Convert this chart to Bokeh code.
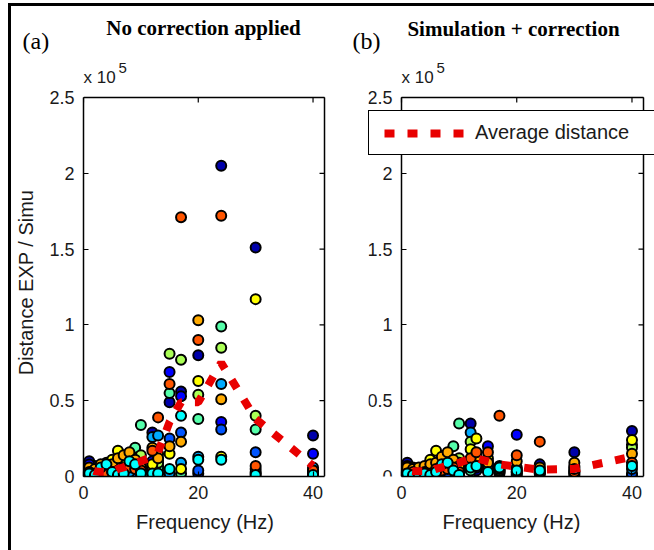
from bokeh.plotting import figure
from bokeh.layouts import row, column
from bokeh.models import (ColumnDataSource, Range1d, FixedTicker, NumeralTickFormatter,
                          Label, Legend, LegendItem)
from bokeh.embed import file_html
from bokeh.resources import INLINE

# ---------------- data (distance in units of 1e5) ----------------
freqs = [1, 2, 3, 4, 5, 6, 7, 8, 9, 10, 12, 13, 15, 17, 20, 24, 30, 40]

series_colors = ["#0000AA", "#0000FF", "#0055FF", "#00AAFF", "#00FFFF",
                 "#55FFAA", "#AAFF55", "#FFFF00", "#FFAA00", "#FF5500"]

# Panel (a): no correction applied
a_navy   = [0.10, 0.07, 0.05, 0.04, 0.03, 0.02, 0.02, 0.03, 0.04, 0.03, 0.29, 0.07, 0.49, 0.56, 0.80, 2.05, 1.51, 0.27]
a_blue   = [0.08, 0.04, 0.02, 0.03, 0.02, 0.03, 0.04, 0.05, 0.06, 0.05, 0.10, 0.11, 0.69, 0.53, 0.02, 0.36, 0.03, 0.15]
a_blue2  = [0.04, 0.02, 0.03, 0.02, 0.04, 0.05, 0.03, 0.04, 0.03, 0.02, 0.06, 0.04, 0.25, 0.29, 0.04, 0.31, 0.16, 0.02]
a_sky    = [0.04, 0.03, 0.02, 0.05, 0.06, 0.04, 0.07, 0.03, 0.12, 0.09, 0.26, 0.27, 0.02, 0.09, 0.13, 0.61, 0.02, 0.06]
a_cyan   = [0.02, 0.01, 0.06, 0.08, 0.03, 0.01, 0.02, 0.10, 0.08, 0.02, 0.02, 0.02, 0.05, 0.40, 0.11, 0.11, 0.01, 0.01]
a_aqua   = [0.05, 0.04, 0.03, 0.05, 0.05, 0.06, 0.08, 0.13, 0.19, 0.34, 0.04, 0.06, 0.55, 0.02, 0.38, 0.99, 0.31, 0.04]
a_lime   = [0.03, 0.03, 0.04, 0.04, 0.07, 0.10, 0.06, 0.09, 0.10, 0.14, 0.05, 0.09, 0.81, 0.77, 0.54, 0.85, 0.40, 0.03]
a_yellow = [0.04, 0.04, 0.05, 0.09, 0.11, 0.17, 0.12, 0.12, 0.07, 0.07, 0.08, 0.15, 0.15, 0.05, 0.63, 0.13, 1.17, 0.02]
a_orange = [0.06, 0.05, 0.08, 0.06, 0.08, 0.12, 0.14, 0.16, 0.11, 0.06, 0.19, 0.12, 0.20, 0.23, 1.03, 0.51, 0.05, 0.03]
a_red    = [0.03, 0.02, 0.03, 0.02, 0.03, 0.04, 0.05, 0.06, 0.05, 0.04, 0.17, 0.39, 0.61, 1.71, 0.90, 1.72, 0.07, 0.04]
a_avg    = [0.05, 0.035, 0.03, 0.03, 0.03, 0.05, 0.06, 0.08, 0.09, 0.10, 0.13, 0.16, 0.36, 0.49, 0.49, 0.75, 0.38, 0.07]

# Panel (b): simulation + correction
b_navy   = [0.09, 0.06, 0.05, 0.04, 0.03, 0.02, 0.03, 0.02, 0.03, 0.02, 0.35, 0.04, 0.05, 0.03, 0.02, 0.08, 0.16, 0.30]
b_blue   = [0.07, 0.03, 0.04, 0.03, 0.02, 0.03, 0.02, 0.04, 0.05, 0.04, 0.05, 0.12, 0.20, 0.02, 0.275, 0.03, 0.01, 0.01]
b_blue2  = [0.04, 0.02, 0.03, 0.02, 0.04, 0.05, 0.04, 0.03, 0.06, 0.05, 0.08, 0.06, 0.08, 0.05, 0.03, 0.02, 0.03, 0.02]
b_sky    = [0.03, 0.04, 0.02, 0.05, 0.03, 0.06, 0.05, 0.07, 0.10, 0.08, 0.29, 0.10, 0.06, 0.04, 0.01, 0.03, 0.02, 0.05]
b_cyan   = [0.02, 0.01, 0.01, 0.02, 0.01, 0.03, 0.08, 0.09, 0.04, 0.01, 0.06, 0.07, 0.03, 0.06, 0.04, 0.04, 0.05, 0.07]
b_aqua   = [0.05, 0.03, 0.04, 0.03, 0.05, 0.04, 0.06, 0.10, 0.20, 0.35, 0.04, 0.09, 0.07, 0.03, 0.03, 0.02, 0.04, 0.21]
b_lime   = [0.03, 0.02, 0.03, 0.04, 0.06, 0.08, 0.07, 0.06, 0.08, 0.12, 0.23, 0.11, 0.10, 0.04, 0.05, 0.03, 0.06, 0.19]
b_yellow = [0.04, 0.04, 0.05, 0.06, 0.11, 0.17, 0.10, 0.12, 0.07, 0.09, 0.18, 0.25, 0.12, 0.05, 0.06, 0.05, 0.07, 0.24]
b_orange = [0.06, 0.05, 0.06, 0.07, 0.08, 0.09, 0.13, 0.16, 0.11, 0.07, 0.10, 0.13, 0.09, 0.07, 0.10, 0.06, 0.09, 0.15]
b_red    = [0.02, 0.03, 0.02, 0.03, 0.02, 0.05, 0.04, 0.05, 0.06, 0.03, 0.12, 0.16, 0.16, 0.40, 0.14, 0.23, 0.03, 0.09]
b_avg    = [0.04, 0.035, 0.035, 0.035, 0.035, 0.05, 0.06, 0.07, 0.08, 0.09, 0.12, 0.12, 0.10, 0.08, 0.065, 0.045, 0.05, 0.13]

a_series = [a_navy, a_blue, a_blue2, a_sky, a_cyan, a_aqua, a_lime, a_yellow, a_orange, a_red]
b_series = [b_navy, b_blue, b_blue2, b_sky, b_cyan, b_aqua, b_lime, b_yellow, b_orange, b_red]

x_ticks = [0, 20, 40]
y_ticks = [0, 0.5, 1, 1.5, 2, 2.5]
X_MAX = 42
Y_MAX = 2.5
draw_order = [0, 1, 2, 3, 5, 6, 7, 8, 9, 4]

SANS = "Liberation Sans"
SERIF = "Liberation Serif"
RED = "#e80000"
TXT = "#1a1a1a"

# ---- pixel geometry of the page ----
SPLIT = 88                     # page y where the title strip ends and the panels begin
FRAME_TOP, FRAME_BOTTOM = 97, 476
PX_X = 242 / X_MAX             # pixels per Hz
PX_Y = (FRAME_BOTTOM - FRAME_TOP) / Y_MAX
TICK_PX = 5


def style_axis(ax, ticks):
    ax.ticker = FixedTicker(ticks=ticks)
    ax.axis_line_color = "black"
    ax.axis_line_width = 1.5
    ax.major_tick_line_color = "black"
    ax.major_tick_line_width = 1.2
    ax.major_tick_in = TICK_PX
    ax.major_tick_out = 0
    ax.minor_tick_line_color = None
    ax.major_label_text_font = SANS
    ax.major_label_text_font_size = "18px"
    ax.major_label_text_color = TXT
    ax.major_label_standoff = 9


def make_panel(series, avg, width, bl, left_px, right_px, ylabel=None, legend=False):
    # left_px / right_px: pixels between the frame edges and x = 0 / x = X_MAX
    p = figure(width=width, height=550 - SPLIT, output_backend="svg", toolbar_location=None,
               title=None,
               x_range=Range1d(-left_px / PX_X, X_MAX + right_px / PX_X),
               y_range=Range1d(0, Y_MAX + (FRAME_TOP - SPLIT) / PX_Y),
               min_border_left=bl, min_border_right=0, min_border_top=0,
               min_border_bottom=550 - FRAME_BOTTOM)
    p.grid.visible = False
    p.outline_line_color = None
    p.background_fill_color = "white"
    p.border_fill_color = "white"

    xa = p.xaxis[0]
    ya = p.yaxis[0]
    style_axis(xa, x_ticks)
    style_axis(ya, y_ticks)
    xa.bounds = (0, X_MAX)
    ya.bounds = (0, Y_MAX)
    if left_px > 0:
        ya.fixed_location = 0
    ya.formatter = NumeralTickFormatter(format="0.[0]")
    xa.axis_label = "Frequency (Hz)"
    xa.axis_label_text_font = SANS
    xa.axis_label_text_font_size = "20px"
    xa.axis_label_text_font_style = "normal"
    xa.axis_label_text_color = TXT
    xa.axis_label_standoff = 9
    if ylabel:
        ya.axis_label = ylabel
        ya.axis_label_text_font = SANS
        ya.axis_label_text_font_size = "20px"
        ya.axis_label_text_font_style = "normal"
        ya.axis_label_text_color = TXT
        ya.axis_label_standoff = 9

    # top and right edges of the axes box with their inward ticks
    dy = TICK_PX / PX_Y
    dx = TICK_PX / PX_X
    p.segment(x0=[0, X_MAX], y0=[Y_MAX, 0], x1=[X_MAX, X_MAX], y1=[Y_MAX, Y_MAX],
              line_color="black", line_width=1.5)
    p.segment(x0=x_ticks, y0=[Y_MAX] * len(x_ticks), x1=x_ticks, y1=[Y_MAX - dy] * len(x_ticks),
              line_color="black", line_width=1.2)
    p.segment(x0=[X_MAX] * len(y_ticks), y0=y_ticks, x1=[X_MAX - dx] * len(y_ticks), y1=y_ticks,
              line_color="black", line_width=1.2)

    xs, ys, cs = [], [], []
    for k in draw_order:
        for f, v in zip(freqs, series[k]):
            xs.append(f)
            ys.append(v)
            cs.append(series_colors[k])
    src = ColumnDataSource(dict(x=xs, y=ys, c=cs))
    p.scatter("x", "y", source=src, size=10, fill_color="c", line_color="black", line_width=2)

    line = p.line(freqs, avg, line_color=RED, line_width=8, line_dash="10 13",
                  line_dash_offset=18, line_cap="butt")

    if legend:
        lg = Legend(items=[LegendItem(label="Average distance", renderers=[line])],
                    location=(0, 321), orientation="vertical",
                    label_text_font=SANS, label_text_font_size="20px", label_text_color=TXT,
                    glyph_width=86, glyph_height=22, label_height=22, label_width=185,
                    label_standoff=10, padding=10, margin=0, spacing=0,
                    border_line_color="black", border_line_width=1.5, border_line_alpha=1.0,
                    background_fill_color="white", background_fill_alpha=1.0)
        p.add_layout(lg, "center")
    return p


# ---- top strip with panel letters, titles and the scale factor (page coordinates) ----
top = figure(width=643, height=SPLIT - 6, output_backend="svg", toolbar_location=None,
             title=None, x_range=Range1d(11, 654), y_range=Range1d(SPLIT, 6),
             x_axis_location=None, y_axis_location=None, min_border=0)
top.grid.visible = False
top.outline_line_color = None
top.border_fill_color = "white"
top.background_fill_color = "white"


def put(x, y, text, font, size, style="normal", align="left", color="black"):
    top.add_layout(Label(x=x, y=y, text=text, text_font=font, text_font_size=size,
                         text_font_style=style, text_align=align, text_baseline="middle",
                         text_color=color))


put(22, 40, "(a)", SERIF, "24px")
put(203, 27, "No correction applied", SERIF, "21px", style="bold", align="center")
put(83, 77, "x 10", SANS, "17px", color=TXT)
put(118, 67, "5", SANS, "15px", color=TXT)
put(352, 40, "(b)", SERIF, "24px")
put(513, 28, "Simulation + correction", SERIF, "21px", style="bold", align="center")
put(401, 77, "x 10", SANS, "17px", color=TXT)
put(436, 67, "5", SANS, "15px", color=TXT)

# panel (a): page x 11..326, axes box 83..324
pa = make_panel(a_series, a_avg, 315, 72, 0, 2, ylabel="Distance EXP / Simu")
# panel (b): page x 326..654, drawing area from 368 (legend overhangs the axis) to 654
pb = make_panel(b_series, b_avg, 328, 42, 33, 11, legend=True)

layout = column(top, row(pa, pb, spacing=0), spacing=0,
                styles={"border-left": "3px solid black", "border-top": "3px solid black",
                        "margin-left": "8px", "margin-top": "3px"})
open("out.html", "w").write(file_html(layout, INLINE))
